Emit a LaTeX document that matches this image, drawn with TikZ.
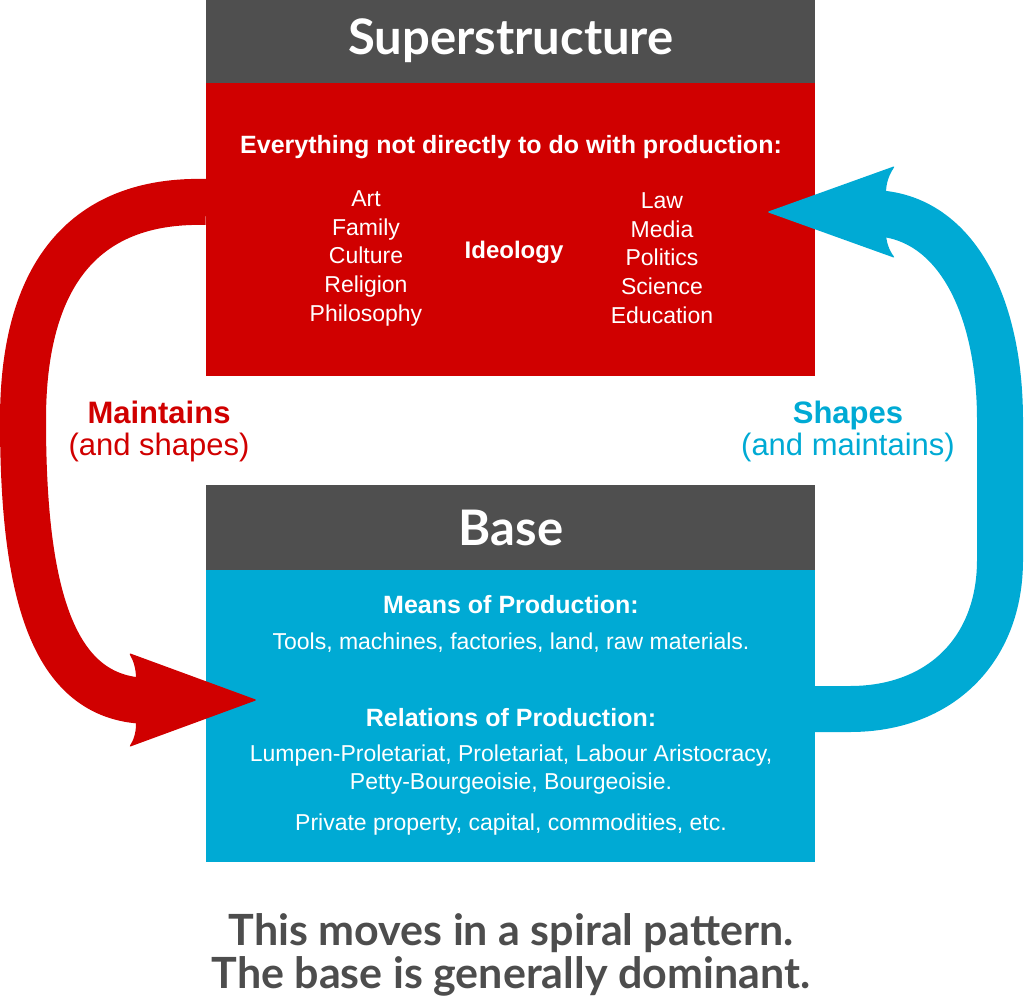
\documentclass[tikz,border=0pt]{standalone}
\usepackage{fontspec}
\setmainfont{Liberation Sans}
\newfontfamily\gill{Lato}
\definecolor{hdrgray}{RGB}{79,79,79}
\definecolor{supred}{RGB}{208,0,0}
\definecolor{baseblue}{RGB}{0,170,212}
\definecolor{foottxt}{RGB}{77,77,77}
\begin{document}
\begin{tikzpicture}[x=1pt,y=-1pt,
  panel/.style={inner sep=0, outer sep=0, anchor=north west, draw=none},
  boxtxt/.style={text=white, inner sep=0, anchor=base, font=\fontsize{23}{27}\selectfont},
  boxbold/.style={text=white, inner sep=0, anchor=base, font=\fontsize{25}{29}\selectfont\bfseries},
  titletxt/.style={text=white, inner sep=0, anchor=base, font=\gill\bfseries\fontsize{49}{53}\selectfont},
  sidebold/.style={inner sep=0, anchor=base, font=\fontsize{31}{35}\selectfont\bfseries},
  sidereg/.style={inner sep=0, anchor=base, font=\fontsize{31}{35}\selectfont},
  foot/.style={text=foottxt, inner sep=0, anchor=base, font=\gill\bfseries\fontsize{43}{47}\selectfont},
  shaft/.style={line width=46pt},
  head/.style={rounded corners=2pt},
]
\useasboundingbox (0,0) rectangle (1024,1003);

% connector end points
\coordinate (rs) at (206,202);
\coordinate (rm) at (23,420);
\coordinate (re) at (150,701);
\coordinate (bs) at (815,709);
\coordinate (bm) at (1000,560);
\coordinate (bm2) at (1000,420);
\coordinate (be) at (870,213);

% shafts (under the boxes)
\draw[shaft, supred] (rs) .. controls (95,199) and (23,262) .. (rm)
   .. controls (23,600) and (55,701) .. (re);
\draw[shaft, baseblue] (bs) -- (850,709) .. controls (940,709) and (1000,650) .. (bm)
   -- (bm2) .. controls (1000,305) and (955,213) .. (be);

% superstructure panel
\node[panel, fill=hdrgray, minimum width=609pt, minimum height=83pt] (suphdr) at (206,0) {};
\node[panel, fill=supred, minimum width=609pt, minimum height=293pt] (supbody) at (206,83) {};
% base panel
\node[panel, fill=hdrgray, minimum width=609pt, minimum height=85pt] (basehdr) at (206,485) {};
\node[panel, fill=baseblue, minimum width=609pt, minimum height=292pt] (basebody) at (206,570) {};

% arrowheads (over the boxes)
\fill[supred, head] (257,700) -- (129,653) .. controls (133,660) and (136,668) .. (136,680)
   -- (136,722) .. controls (136,734) and (133,741) .. (129,747) -- cycle;
\fill[baseblue, head] (767,212) -- (895,166) .. controls (889,175) and (886,183) .. (886,195)
   -- (886,230) .. controls (886,242) and (889,250) .. (895,258) -- cycle;

% titles
\node[titletxt] (suptitle) at (511,55) {Superstructure};
\node[titletxt] (basetitle) at (511,545) {Base};

% superstructure text
\node[boxbold] (every) at (511,154) {Everything not directly to do with production:};
\node[boxtxt] (art) at (366,206) {Art};
\node[boxtxt] (family) at (366,235) {Family};
\node[boxtxt] (culture) at (366,263) {Culture};
\node[boxtxt] (religion) at (366,292) {Religion};
\node[boxtxt] (philo) at (366,321) {Philosophy};
\node[boxbold, font=\fontsize{24}{28}\selectfont\bfseries] (ideo) at (514,258) {Ideology};
\node[boxtxt] (law) at (662,208) {Law};
\node[boxtxt] (media) at (662,237) {Media};
\node[boxtxt] (politics) at (662,265) {Politics};
\node[boxtxt] (science) at (662,294) {Science};
\node[boxtxt] (educ) at (662,323) {Education};

% side labels
\node[sidebold, text=supred] (maint) at (159,423) {Maintains};
\node[sidereg, text=supred] (maint2) at (159,455) {(and shapes)};
\node[sidebold, text=baseblue] (shapes) at (848,423) {Shapes};
\node[sidereg, text=baseblue] (shapes2) at (848,455) {(and maintains)};

% base text
\node[boxbold] (means) at (511,613) {Means of Production:};
\node[boxtxt] (tools) at (511,649) {Tools, machines, factories, land, raw materials.};
\node[boxbold] (rel) at (511,726) {Relations of Production:};
\node[boxtxt] (lumpen) at (511,761) {Lumpen-Proletariat, Proletariat, Labour Aristocracy,};
\node[boxtxt] (petty) at (511,789) {Petty-Bourgeoisie, Bourgeoisie.};
\node[boxtxt] (priv) at (511,830) {Private property, capital, commodities, etc.};

% footer
\node[foot] (f1) at (511,945) {This moves in a spiral pattern.};
\node[foot] (f2) at (511,988) {The base is generally dominant.};
\end{tikzpicture}
\end{document}
